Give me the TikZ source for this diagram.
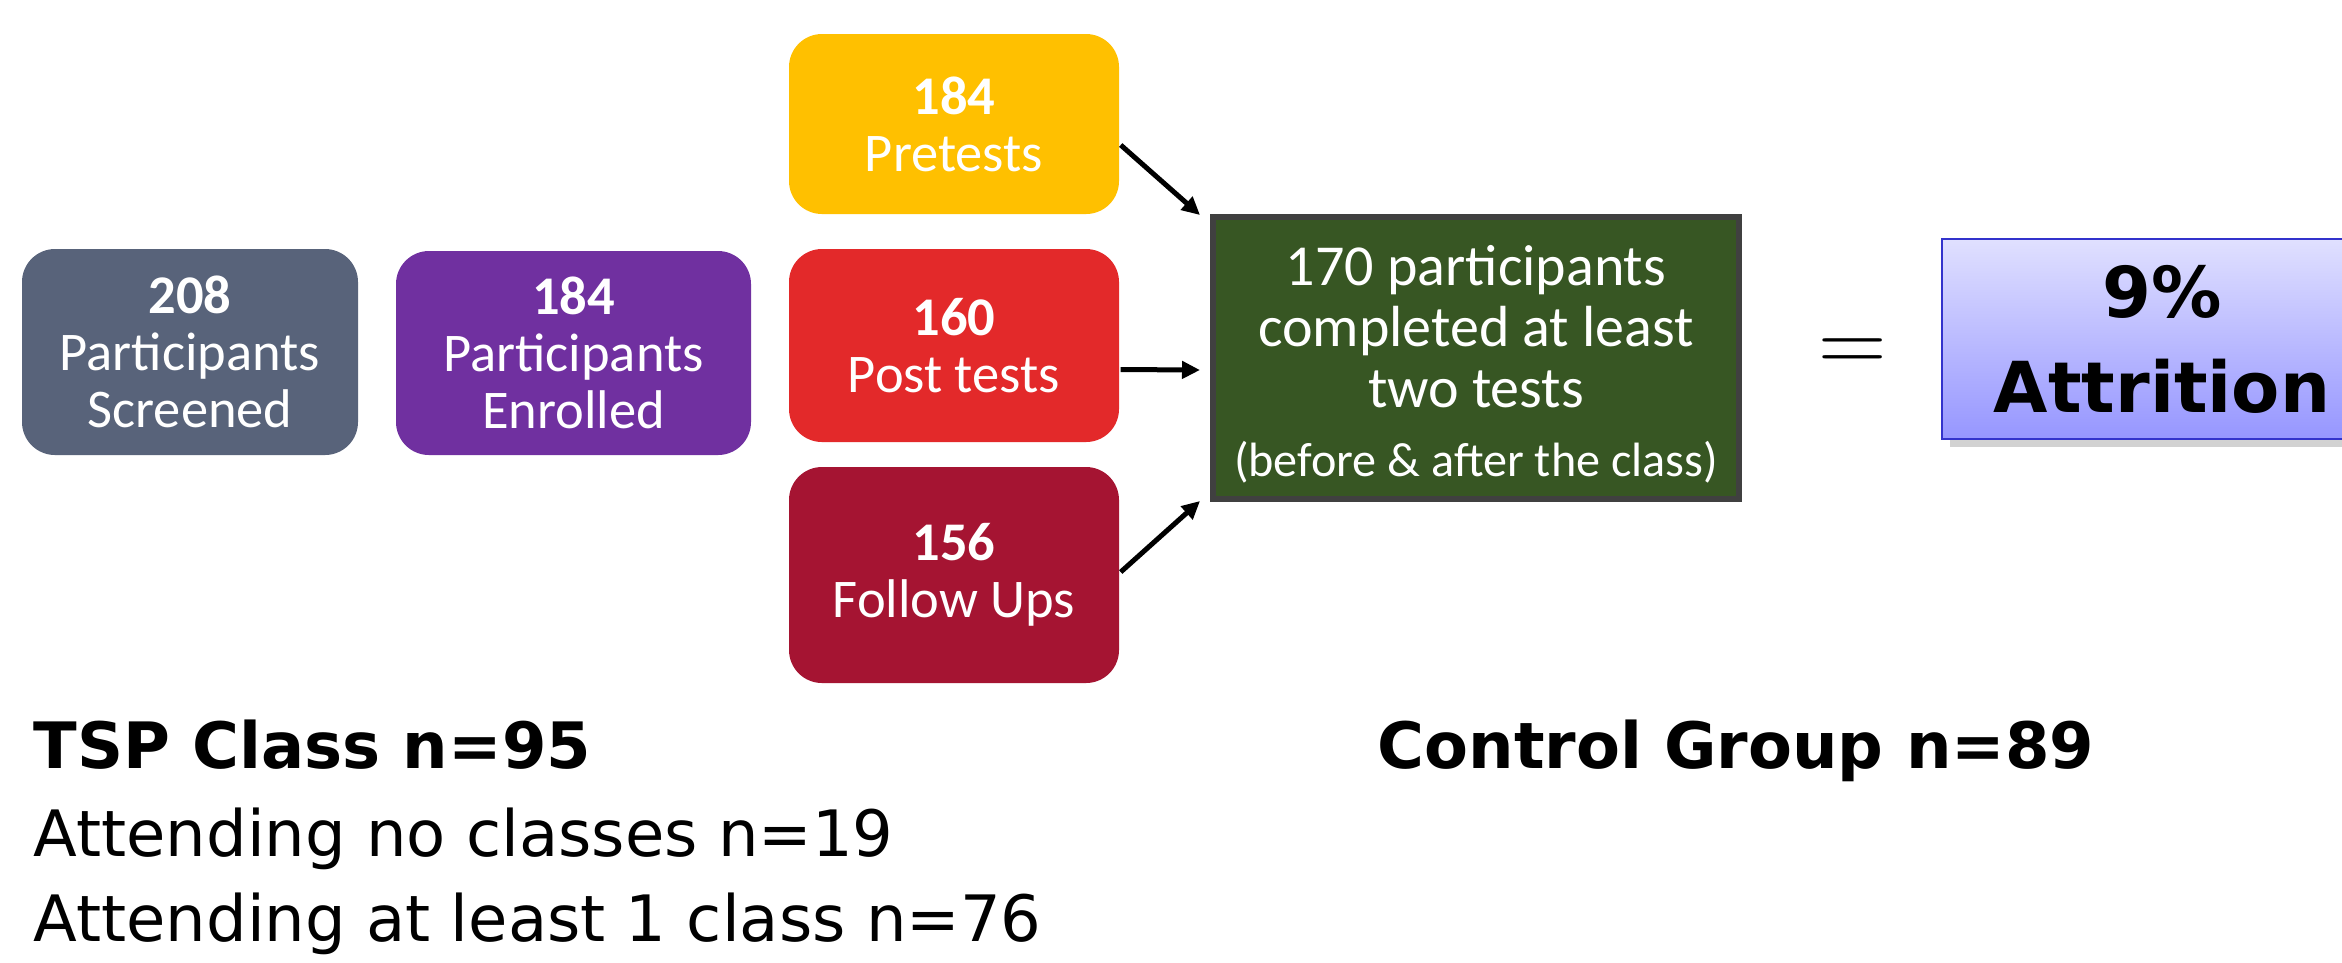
\documentclass[tikz,border=0pt]{standalone}
\usepackage{fontspec}
\newfontfamily\calfont{Carlito}
\newfontfamily\verfont{DejaVu Sans}
\usetikzlibrary{arrows.meta,calc,shadows}
\definecolor{cscr}{RGB}{88,99,122}
\definecolor{cenr}{RGB}{112,48,160}
\definecolor{cpre}{RGB}{255,192,0}
\definecolor{cpost}{RGB}{227,41,42}
\definecolor{cfol}{RGB}{165,20,50}
\definecolor{cgreen}{RGB}{55,86,35}
\definecolor{cgborder}{RGB}{64,64,64}
\definecolor{ctop}{RGB}{224,224,255}
\definecolor{cbot}{RGB}{150,150,255}
\definecolor{cattb}{RGB}{51,51,204}
\begin{document}
\begin{tikzpicture}[x=0.1mm,y=-0.1mm,
  rbox/.style={rounded corners=3.3mm, inner sep=0pt, text=white, align=center,
    font=\calfont\fontsize{15.5}{16.2}\selectfont},
  arr/.style={-{Triangle[length=1.8mm,width=1.7mm]}, line width=0.5mm},
  note/.style={anchor=base west, inner sep=0pt, font=\verfont\fontsize{18.2}{20}\selectfont},
  boldnote/.style={anchor=base west, inner sep=0pt, font=\verfont\bfseries\fontsize{18.2}{20}\selectfont}
]
\clip (0,0) rectangle (2342,962);
\fill[white] (0,0) rectangle (2342,962);

\node[rbox, fill=cscr, minimum width=33.6mm, minimum height=20.6mm] (scr) at (190,352)
  {\textbf{208}\\Participants\\Screened};
\node[rbox, fill=cenr, minimum width=35.5mm, minimum height=20.4mm] (enr) at (573.5,353)
  {\textbf{184}\\Participants\\Enrolled};
\node[rbox, fill=cpre, minimum width=33mm, minimum height=18mm] (pre) at (954,124)
  {\textbf{184}\\Pretests};
\node[rbox, fill=cpost, minimum width=33mm, minimum height=19.3mm] (post) at (954,345.5)
  {\textbf{160}\\Post tests};
\node[rbox, fill=cfol, minimum width=33mm, minimum height=21.6mm] (fol) at (954,575)
  {\textbf{156}\\Follow Ups};

\node[draw=cgborder, line width=0.6mm, fill=cgreen, text=white, inner sep=0pt,
  minimum width=52.6mm, minimum height=28.2mm, align=center,
  font=\calfont\fontsize{16.5}{17.3}\selectfont] (res) at (1476,358)
  {\rule{0pt}{15pt}170 participants\\completed at least\\two tests\\[2.5pt]{\fontsize{13.7}{15}\selectfont (before \& after the class)}};

\draw[arr] ($(pre.east)+(1,21)$) -- ($(res.north west)+(-10,1)$);
\draw[arr] ($(post.east)+(1,24)$) -- ($(res.west)+(-10,12)$);
\draw[arr] ($(fol.east)+(1,-3)$) -- ($(res.south west)+(-10,-1)$);

\node[inner sep=0pt, font=\fontsize{27}{27}\selectfont] (eq) at (1853,356) {=};

\node[draw=cattb, line width=0.25mm, top color=ctop, bottom color=cbot,
  drop shadow={shadow xshift=0.8mm, shadow yshift=-0.8mm, opacity=0.35},
  minimum width=44mm, minimum height=20mm, inner sep=0pt, align=center,
  font=\verfont\bfseries\fontsize{20}{27}\selectfont] (att) at (2162,339) {9\%\\Attrition};

\node[boldnote] (tsp) at (33,768) {TSP Class n=95};
\node[note] (none) at (33,856) {Attending no classes n=19};
\node[note] (one) at (33,941) {Attending at least 1 class n=76};
\node[boldnote] (ctl) at (1377,768) {Control Group n=89};
\end{tikzpicture}
\end{document}
